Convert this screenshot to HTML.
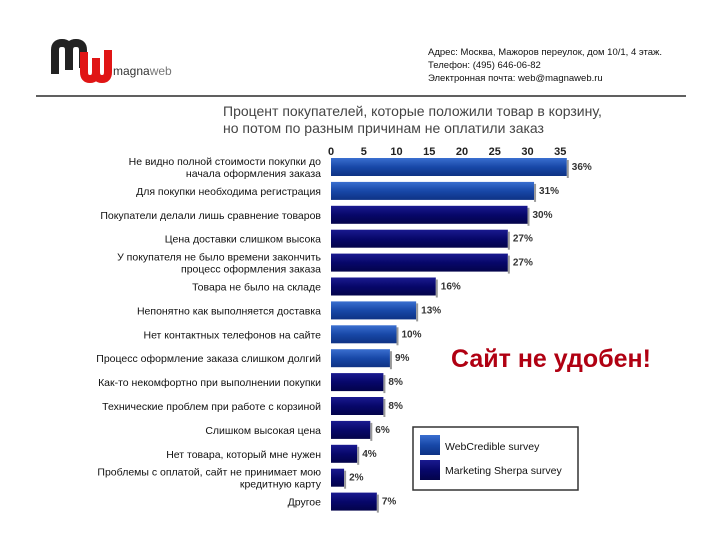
<!DOCTYPE html>
<html><head><meta charset="utf-8"><style>
body{margin:0;background:#fff;width:720px;height:540px;overflow:hidden;font-family:"Liberation Sans","DejaVu Sans",sans-serif}
</style></head><body>
<svg width="720" height="540" xmlns="http://www.w3.org/2000/svg">
<defs>
<linearGradient id="gl" x1="0" y1="0" x2="0" y2="1"><stop offset="0" stop-color="#3a6fd0"/><stop offset="0.5" stop-color="#1848a8"/><stop offset="1" stop-color="#0e3284"/></linearGradient>
<linearGradient id="gd" x1="0" y1="0" x2="0" y2="1"><stop offset="0" stop-color="#1a1a90"/><stop offset="0.5" stop-color="#07076a"/><stop offset="1" stop-color="#03034a"/></linearGradient>
</defs>
<g>
<path d="M55 74 V50 q0-7 7-7 q7 0 7 7 V70 M69 50 q0-7 7-7 q7 0 7 7 V68" fill="none" stroke="#222" stroke-width="8"/>
<path d="M84 52 V72 q0 7 6 7 q6 0 6-7 V58 M96 72 q0 7 6 7 q6 0 6-7 V50" fill="none" stroke="#e01515" stroke-width="8"/>
<text x="113" y="75" font-size="12" fill="#333">magna<tspan fill="#777">web</tspan></text>
</g>
<g font-size="9.5" fill="#111">
<text x="428" y="55">Адрес: Москва, Мажоров переулок, дом 10/1, 4 этаж.</text>
<text x="428" y="68">Телефон: (495) 646-06-82</text>
<text x="428" y="81">Электронная почта: web@magnaweb.ru</text>
</g>
<line x1="36" y1="96" x2="686" y2="96" stroke="#000" stroke-width="1.2"/>
<g font-size="14" fill="#444">
<text x="223" y="116">Процент покупателей, которые положили товар в корзину,</text>
<text x="223" y="133">но потом по разным причинам не оплатили заказ</text>
</g>
<g id="ticks"></g>
<g id="bars"></g>
<g id="cats"></g>
<text x="451" y="367" font-size="25" font-weight="bold" fill="#b00012">Сайт не удобен!</text>
<g>
<rect x="413" y="427" width="165" height="63" fill="#fff" stroke="#333" stroke-width="1.5"/>
<rect x="420" y="435" width="20" height="20" fill="url(#gl)"/>
<text x="445" y="450" font-size="10.5" fill="#111">WebCredible survey</text>
<rect x="420" y="460" width="20" height="20" fill="url(#gd)"/>
<text x="445" y="474" font-size="10.5" fill="#111">Marketing Sherpa survey</text>
</g>
</svg>
<script>
const categories=[["Не видно полной стоимости покупки до","начала оформления заказа"],["Для покупки необходима регистрация"],["Покупатели делали лишь сравнение товаров"],["Цена доставки слишком высока"],["У покупателя не было времени закончить","процесс оформления заказа"],["Товара не было на складе"],["Непонятно как выполняется доставка"],["Нет контактных телефонов на сайте"],["Процесс оформление заказа слишком долгий"],["Как-то некомфортно при выполнении покупки"],["Технические проблем при работе с корзиной"],["Слишком высокая цена"],["Нет товара, который мне нужен"],["Проблемы с оплатой, сайт не принимает мою","кредитную карту"],["Другое"]];
const values=[36,31,30,27,27,16,13,10,9,8,8,6,4,2,7];
const series=["w","w","s","s","s","s","w","w","w","s","s","s","s","s","s"];
const ticks=[0,5,10,15,20,25,30,35];
const NS="http://www.w3.org/2000/svg";
const x0=331,scale=6.55,y0=167,step=23.9,bh=18;
const X=v=>x0+v*scale, Y=i=>y0+i*step;
function mk(t,a,p){const e=document.createElementNS(NS,t);for(const k in a)e.setAttribute(k,a[k]);p.appendChild(e);return e;}
const tg=document.getElementById('ticks');
ticks.forEach(t=>{const e=mk('text',{x:X(t),y:155,'font-size':11,'font-weight':'bold','text-anchor':'middle',fill:'#222'},tg);e.textContent=t;

});
const bg=document.getElementById('bars'),cg=document.getElementById('cats');
values.forEach((v,i)=>{
 const r=mk('rect',{x:x0,y:Y(i)-bh/2,width:X(v)-x0,height:bh,fill:series[i]=="w"?"url(#gl)":"url(#gd)"},bg);
 
 
 const s=mk('rect',{x:X(v),y:Y(i)-bh/2+2,width:2,height:bh,fill:'#999'},bg);
 
 
 const l=mk('text',{x:X(v)+5,y:Y(i)+3,'font-size':10,'font-weight':'bold',fill:'#333'},bg);l.textContent=v+'%';
 
 
 const lines=categories[i];
 lines.forEach((ln,j)=>{const ty=lines.length==1?Y(i)+4:Y(i)-2+j*12;
  const t=mk('text',{x:321,y:ty,'font-size':10.5,'text-anchor':'end',fill:'#111'},cg);t.textContent=ln;
  
  });
});
</script>
</body></html>
